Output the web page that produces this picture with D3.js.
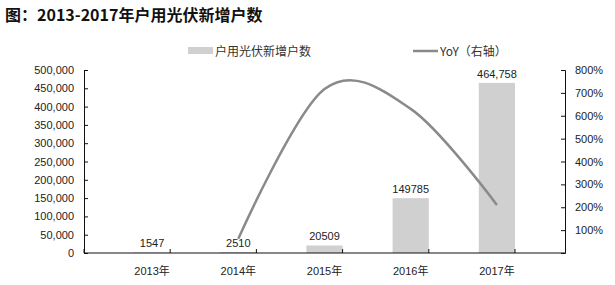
<!DOCTYPE html>
<html>
<head>
<meta charset="utf-8">
<script src="https://cdn.jsdelivr.net/npm/d3@7"></script>
<style>
  body { margin: 0; background: #fff; }
  text { font-family: "Liberation Sans", Arial, "Noto Sans CJK SC", sans-serif; fill: #222; }
  .cjk { font-family: "Noto Sans CJK SC", sans-serif; }
</style>
</head>
<body>
<svg id="chart" width="615" height="285"></svg>
<script>
// chart data
const years = ["2013年", "2014年", "2015年", "2016年", "2017年"];
const households = [1547, 2510, 20509, 149785, 464758];
const barLabels = ["1547", "2510", "20509", "149785", "464,758"];
const yoy = [null, 0.62, 7.17, 6.30, 2.10];
const leftTicks = [0, 50000, 100000, 150000, 200000, 250000, 300000, 350000, 400000, 450000, 500000];
const rightTicks = [1, 2, 3, 4, 5, 6, 7, 8];

const svg = d3.select("#chart");
const plotL = 84, plotR = 565, plotT = 70, plotB = 253;

const x = d3.scaleBand().domain(years).range([plotL, plotR]).padding(0.58);
const y = d3.scaleLinear().domain([0, 500000]).range([plotB, plotT]);
const y2 = d3.scaleLinear().domain([0, 8]).range([plotB, plotT]);

// title
svg.append("text")
  .attr("class", "cjk")
  .attr("x", 5).attr("y", 21)
  .attr("font-size", 16).attr("font-weight", "bold")
  .style("fill", "#111")
  .text("图：2013-2017年户用光伏新增户数");

// legend
svg.append("rect").attr("x", 188).attr("y", 47).attr("width", 25).attr("height", 7).attr("fill", "#d0d0d0");
svg.append("text").attr("class", "cjk").attr("x", 215).attr("y", 55.5)
  .attr("font-size", 12).style("fill", "#333").text("户用光伏新增户数");
svg.append("line").attr("x1", 413).attr("x2", 438).attr("y1", 51).attr("y2", 51)
  .attr("stroke", "#8a8a8a").attr("stroke-width", 2.5);
svg.append("text").attr("class", "cjk").attr("x", 440).attr("y", 55.5)
  .attr("font-size", 12).style("fill", "#333").text("YoY（右轴）");

// bars
svg.selectAll(".bar")
  .data(households)
  .enter().append("rect")
  .attr("class", "bar")
  .attr("x", (d, i) => x(years[i]))
  .attr("width", x.bandwidth())
  .attr("y", d => y(d))
  .attr("height", d => plotB - y(d))
  .attr("fill", "#d0d0d0");

svg.selectAll(".blabel")
  .data(households)
  .enter().append("text")
  .attr("class", "blabel")
  .attr("x", (d, i) => x(years[i]) + x.bandwidth() / 2)
  .attr("y", d => y(d) - 5)
  .attr("text-anchor", "middle")
  .attr("font-size", 11)
  .text((d, i) => barLabels[i]);

// yoy line
const pts = yoy.map((v, i) => [x(years[i]) + x.bandwidth() / 2, v]).filter(p => p[1] !== null);
svg.append("path")
  .datum(pts)
  .attr("fill", "none")
  .attr("stroke", "#8a8a8a")
  .attr("stroke-width", 2.5)
  .attr("d", d3.line().x(p => p[0]).y(p => y2(p[1])).curve(d3.curveCardinal.tension(0)));

// axes
const axL = svg.append("g").attr("transform", `translate(${plotL},0)`)
  .call(d3.axisLeft(y).tickValues(leftTicks).tickSize(-4).tickPadding(10).tickFormat(d3.format(",")));
const axR = svg.append("g").attr("transform", `translate(${plotR},0)`)
  .call(d3.axisRight(y2).tickValues(rightTicks).tickSize(-4).tickPadding(10).tickFormat(d => d * 100 + "%"));
const axB = svg.append("g").attr("transform", `translate(0,${plotB})`)
  .call(d3.axisBottom(x).tickSize(0).tickPadding(14));

[axL, axR, axB].forEach(g => {
  g.selectAll("text").attr("font-size", 11).style("fill", "#222")
    .style("font-family", "'Liberation Sans', Arial, 'Noto Sans CJK SC', sans-serif");
  g.selectAll("path, line").attr("stroke", "#111");
});
axB.select(".domain").attr("d", `M${plotL},0H${plotR}`);

// category boundary ticks
const bounds = d3.range(years.length + 1).map(i => plotL + i * x.step());
axB.selectAll(".btick")
  .data(bounds)
  .enter().append("line")
  .attr("class", "btick")
  .attr("x1", d => d).attr("x2", d => d)
  .attr("y1", 0).attr("y2", -4)
  .attr("stroke", "#111");
</script>
</body>
</html>
